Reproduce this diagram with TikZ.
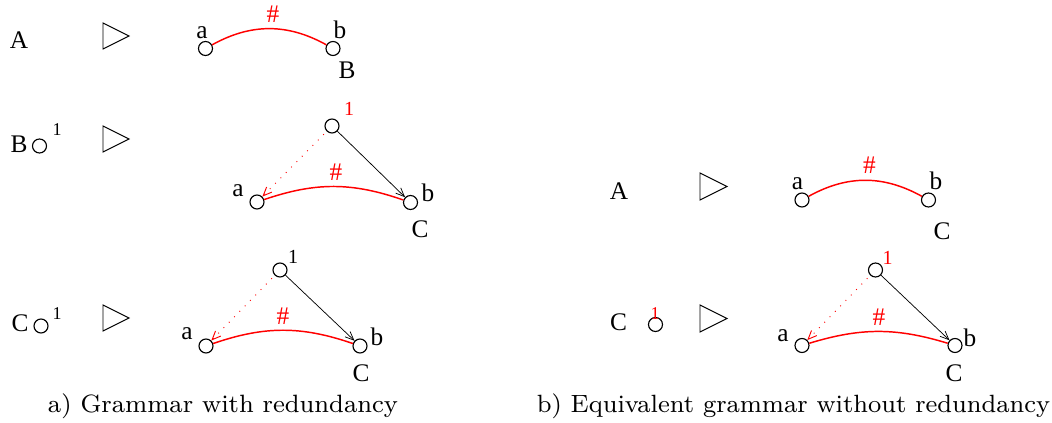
\documentclass[tikz,border=0pt]{standalone}
\usepackage{fontspec}
\newfontfamily\tms{Liberation Serif}
\usetikzlibrary{arrows.meta}
\begin{document}
\begin{tikzpicture}[x=0.75pt,y=-0.75pt,
  vtx/.style={circle, draw, line width=0.85pt, minimum size=10.5pt, inner sep=0pt},
  lbl/.style={font=\tms\fontsize{19}{19}\selectfont, inner sep=0pt, anchor=base},
  rlbl/.style={lbl, text=red},
  one/.style={font=\tms\fontsize{13.5}{13.5}\selectfont, inner sep=0pt, anchor=base},
  rone/.style={one, text=red},
  hedge/.style={red, line width=1.1pt},
  tedge/.style={black, line width=0.55pt, -{Straight Barb[length=6.5pt,width=5.5pt]}},
  dedge/.style={red, line width=0.7pt, dash pattern=on 0.7pt off 5pt, shorten <=3pt, -{Straight Barb[length=6.5pt,width=5.5pt]}},
  tri/.style={draw, line width=0.7pt},
  captext/.style={inner sep=0pt, anchor=base}]
\useasboundingbox (0,0) rectangle (1052,423);

% ---------- panel a, rule 1 ----------
\node[lbl] (aA) at (19,49) {A};
\draw[tri] (103,23) -- (103,49) -- (129,36) -- cycle;
\node[vtx] (a1a) at (205.5,48.5) {};
\node[vtx] (a1b) at (333,48.5) {};
\node[lbl] (a1al) at (202,39) {a};
\node[lbl] (a1bl) at (340,39) {b};
\node[lbl] (a1B) at (347,79) {B};
\draw[hedge] (a1a) to[bend left=29] (a1b);
\node[rlbl] (a1h) at (273,23) {\#};

% ---------- panel a, rule 2 ----------
\node[lbl] (aB) at (19,153) {B};
\node[vtx] (aBc) at (39.5,146) {};
\node[one] (aB1) at (57,136) {1};
\draw[tri] (103,126) -- (103,152) -- (129,139) -- cycle;
\node[vtx] (a2t) at (332,126) {};
\node[rone, font=\tms\fontsize{15}{15}\selectfont] (a2tl) at (349,116) {1};
\node[vtx] (a2a) at (257,202) {};
\node[vtx] (a2b) at (410.5,202.5) {};
\node[lbl] (a2al) at (238,197) {a};
\node[lbl] (a2bl) at (428,202) {b};
\node[lbl] (a2C) at (420,238) {C};
\draw[hedge] (a2a) to[bend left=19] (a2b);
\node[rlbl] (a2h) at (336,181) {\#};
\draw[tedge] (a2t) -- (a2b);
\draw[dedge] (a2t) -- (a2a);

% ---------- panel a, rule 3 ----------
\node[lbl] (aC) at (20,332) {C};
\node[vtx] (aCc) at (41,326) {};
\node[one] (aC1) at (57,320) {1};
\draw[tri] (103,305) -- (103,331) -- (129,318) -- cycle;
\node[vtx] (a3t) at (280,270) {};
\node[one, font=\tms\fontsize{15}{15}\selectfont] (a3tl) at (293,264) {1};
\node[vtx] (a3a) at (206,346) {};
\node[vtx] (a3b) at (360,346) {};
\node[lbl] (a3al) at (187,340) {a};
\node[lbl] (a3bl) at (377,346) {b};
\node[lbl] (a3C) at (361,382) {C};
\draw[hedge] (a3a) to[bend left=19] (a3b);
\node[rlbl] (a3h) at (283,325) {\#};
\draw[tedge] (a3t) -- (a3b);
\draw[dedge] (a3t) -- (a3a);

\node[captext] (capa) at (223,412.5) {\resizebox{262.5pt}{!}{\fontsize{8}{9}\selectfont a) Grammar with redundancy}};

% ---------- panel b, rule 1 ----------
\node[lbl] (bA) at (619,200) {A};
\draw[tri] (700,173) -- (700,200) -- (727,186.5) -- cycle;
\node[vtx] (b1a) at (802,200) {};
\node[vtx] (b1b) at (928.5,200) {};
\node[lbl] (b1al) at (797.5,190) {a};
\node[lbl] (b1bl) at (936,190) {b};
\node[lbl] (b1C) at (942,240) {C};
\draw[hedge] (b1a) to[bend left=29] (b1b);
\node[rlbl] (b1h) at (869.5,174) {\#};

% ---------- panel b, rule 2 ----------
\node[lbl] (bC) at (618.5,331) {C};
\node[vtx] (bCc) at (655.5,324.5) {};
\node[rone] (bC1) at (655,320) {1};
\draw[tri] (700,305) -- (700,332) -- (727,318.5) -- cycle;
\node[vtx] (b2t) at (875.5,270) {};
\node[rone, font=\tms\fontsize{15}{15}\selectfont] (b2tl) at (887.5,265) {1};
\node[vtx] (b2a) at (802,345.5) {};
\node[vtx] (b2b) at (955,345.5) {};
\node[lbl] (b2al) at (783,342) {a};
\node[lbl] (b2bl) at (970,347) {b};
\node[lbl] (b2C) at (954,382) {C};
\draw[hedge] (b2a) to[bend left=17] (b2b);
\node[rlbl] (b2h) at (879,326) {\#};
\draw[tedge] (b2t) -- (b2b);
\draw[dedge] (b2t) -- (b2a);

\node[captext] (capb) at (793.5,412.5) {\resizebox{385pt}{!}{\fontsize{8}{9}\selectfont b) Equivalent grammar without redundancy}};
\end{tikzpicture}
\end{document}
